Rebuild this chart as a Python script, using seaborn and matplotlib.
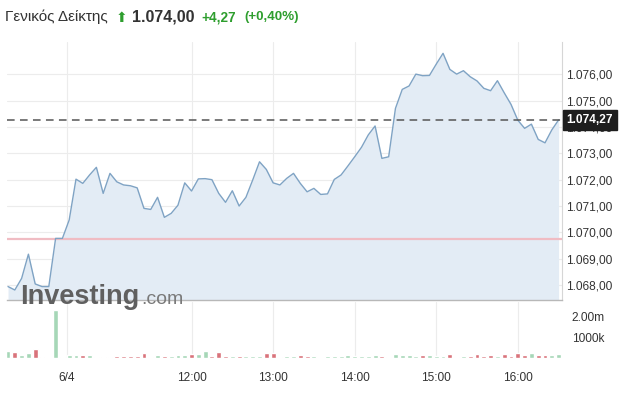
import numpy as np
import pandas as pd
import matplotlib
matplotlib.use("Agg")
import matplotlib.pyplot as plt
import seaborn as sns
from matplotlib.transforms import blended_transform_factory

# ---------------- data ----------------
price = [1067.94, 1067.81, 1068.25, 1069.17, 1068.04, 1067.94, 1067.94, 1069.77, 1069.77, 1070.47,
         1072.02, 1071.86, 1072.18, 1072.47, 1071.48, 1072.24, 1071.92, 1071.80, 1071.77, 1071.69,
         1070.91, 1070.87, 1071.33, 1070.57, 1070.72, 1071.03, 1071.88, 1071.57, 1072.03, 1072.04,
         1072.00, 1071.48, 1071.14, 1071.58, 1071.00, 1071.33, 1071.99, 1072.68, 1072.39, 1071.88,
         1071.80, 1072.05, 1072.24, 1071.86, 1071.54, 1071.67, 1071.44, 1071.46, 1072.01, 1072.18,
         1072.52, 1072.87, 1073.23, 1073.70, 1074.04, 1072.81, 1072.87, 1074.71, 1075.43, 1075.56,
         1076.01, 1075.95, 1075.96, 1076.39, 1076.80, 1076.19, 1076.01, 1076.14, 1075.91, 1075.75,
         1075.47, 1075.38, 1075.76, 1075.30, 1074.86, 1074.26, 1073.95, 1074.11, 1073.53, 1073.40,
         1073.89, 1074.27]

volume_m = [0.35, 0.27, 0.16, 0.25, 0.41, 0.05, 0.00, 2.29, 0.03, 0.13,
            0.13, 0.13, 0.13, 0.03, 0.05, 0.03, 0.08, 0.08, 0.08, 0.08,
            0.22, 0.03, 0.13, 0.08, 0.08, 0.13, 0.13, 0.17, 0.17, 0.32,
            0.08, 0.30, 0.08, 0.08, 0.08, 0.08, 0.08, 0.11, 0.22, 0.22,
            0.05, 0.08, 0.08, 0.13, 0.08, 0.08, 0.02, 0.08, 0.08, 0.08,
            0.13, 0.08, 0.08, 0.08, 0.13, 0.08, 0.03, 0.17, 0.13, 0.13,
            0.08, 0.13, 0.13, 0.08, 0.08, 0.17, 0.03, 0.08, 0.08, 0.17,
            0.08, 0.13, 0.08, 0.17, 0.08, 0.25, 0.13, 0.22, 0.13, 0.13,
            0.13, 0.17]

direction = ["up", "dn", "up", "up", "dn", "dn", "up", "up", "up", "up",
             "up", "dn", "up", "up", "dn", "up", "dn", "dn", "dn", "dn",
             "dn", "up", "up", "dn", "up", "up", "up", "dn", "up", "up",
             "dn", "dn", "dn", "up", "dn", "up", "up", "up", "dn", "dn",
             "dn", "up", "up", "dn", "dn", "up", "up", "up", "up", "up",
             "up", "up", "up", "up", "up", "dn", "up", "up", "up", "up",
             "up", "dn", "up", "up", "up", "dn", "up", "up", "dn", "dn",
             "dn", "dn", "up", "dn", "dn", "dn", "dn", "up", "dn", "dn",
             "up", "up"]

time_tick_pos = [8.65, 27, 39, 51, 63, 75]
time_tick_labels = ["6/4", "12:00", "13:00", "14:00", "15:00", "16:00"]
price_ticks = [1068, 1069, 1070, 1071, 1072, 1073, 1074, 1075, 1076]
vol_ticks = [1.0, 2.0]
vol_tick_labels = ["1000k", "2.00m"]
prev_close = 1069.73
last_price = 1074.27

title_name = "Γενικός Δείκτης"
title_value = "1.074,00"
title_change = "+4,27"
title_pct = "(+0,40%)"

# ---------------- style ----------------
sns.set_theme(style="white")
plt.rcParams["font.family"] = ["Liberation Sans", "DejaVu Sans"]

LINE = "#7fa3c4"
FILL = "#e3ecf5"
GREEN_BAR = "#a6d7b7"
RED_BAR = "#d9737b"
GRID = "#ececec"
TXT = "#333333"
GREEN_TXT = "#2e9e2e"

def fmt_gr(v):
    s = f"{v:,.2f}"
    return s.replace(",", "X").replace(".", ",").replace("X", ".")

fig = plt.figure(figsize=(6.19, 3.96), dpi=100)
W, H = 619, 396

def axes_px(x0, y0, x1, y1):
    return fig.add_axes([x0 / W, 1 - y1 / H, (x1 - x0) / W, (y1 - y0) / H])

ax = axes_px(7, 42, 562, 300)
axv = axes_px(7, 302, 562, 358)

idx = np.arange(len(price))
df = pd.DataFrame({"idx": idx, "price": price, "vol": volume_m, "dir": direction})

ylo, yhi = 1067.43, 1077.23
xlo, xhi = -0.15, 81.5

# price panel
ax.fill_between(df["idx"], df["price"], ylo, color=FILL, lw=0, zorder=1)
sns.lineplot(data=df, x="idx", y="price", ax=ax, color=LINE, linewidth=1.0, zorder=3)
ax.axhline(prev_close, color="#f0bcc3", lw=1.6, zorder=2)
ax.axhline(last_price, color="#555555", lw=1.1, ls=(0, (5, 3.5)), zorder=4)
ax.set_xlim(xlo, xhi)
ax.set_ylim(ylo, yhi)
ax.set_xticks(time_tick_pos)
ax.set_xticklabels([])
ax.set_yticks(price_ticks)
ax.set_yticklabels([fmt_gr(v) for v in price_ticks])
ax.yaxis.tick_right()
ax.tick_params(axis="y", length=0, pad=3, labelsize=8.6, labelcolor=TXT)
ax.tick_params(axis="x", length=0)
ax.grid(True, color=GRID, lw=0.8)
ax.set_xlabel("")
ax.set_ylabel("")
for s in ["top", "left"]:
    ax.spines[s].set_visible(False)
ax.spines["right"].set_color("#d6d6d6")
ax.spines["right"].set_linewidth(0.8)
ax.spines["bottom"].set_color("#b8b8b8")
ax.spines["bottom"].set_linewidth(1.0)

tr = blended_transform_factory(ax.transAxes, ax.transData)
ax.text(1.008, last_price, fmt_gr(last_price), transform=tr, ha="left", va="center",
        color="white", fontsize=8.6, fontweight="bold", zorder=10,
        bbox=dict(boxstyle="square,pad=0.3", fc="#1e1e1e", ec="#1e1e1e"))

# volume panel
sns.barplot(data=df, x="idx", y="vol", hue="dir", palette={"up": GREEN_BAR, "dn": RED_BAR},
            dodge=False, width=0.72, saturation=1, legend=False, ax=axv, zorder=3)
axv.set_xlim(xlo, xhi)
axv.set_ylim(0, 2.67)
axv.set_xticks(time_tick_pos)
axv.set_xticklabels(time_tick_labels)
axv.set_yticks(vol_ticks)
axv.set_yticklabels(vol_tick_labels)
axv.yaxis.tick_right()
axv.tick_params(axis="y", length=0, pad=7, labelsize=8.6, labelcolor=TXT)
axv.tick_params(axis="x", length=0, pad=10, labelsize=8.6, labelcolor=TXT)
axv.grid(True, axis="x", color=GRID, lw=0.8)
axv.grid(False, axis="y")
axv.set_xlabel("")
axv.set_ylabel("")
for s in axv.spines.values():
    s.set_visible(False)

# title line
fig.text(5 / W, 1 - 17 / H, title_name, fontsize=11, color="#333333", va="center", ha="left")
fig.text(116 / W, 1 - 18 / H, "⬆", fontsize=10, color=GREEN_TXT, va="center", ha="left",
         family=["DejaVu Sans"])
fig.text(132 / W, 1 - 17 / H, title_value, fontsize=11.5, color="#333333", fontweight="bold",
         va="center", ha="left")
fig.text(201 / W, 1 - 17 / H, title_change, fontsize=9.8, color=GREEN_TXT, fontweight="bold",
         va="center", ha="left")
fig.text(244 / W, 1 - 17 / H, title_pct, fontsize=9.6, color=GREEN_TXT, fontweight="bold",
         va="center", ha="left")

# watermark
fig.text(20 / W, 1 - 304 / H, "Investing", fontsize=19.5, color="#606060", fontweight="bold",
         va="baseline", ha="left", zorder=20)
fig.text(141 / W, 1 - 304 / H, ".com", fontsize=14, color="#7a7a7a",
         va="baseline", ha="left", zorder=20)

fig.savefig("out.png", dpi=100)
